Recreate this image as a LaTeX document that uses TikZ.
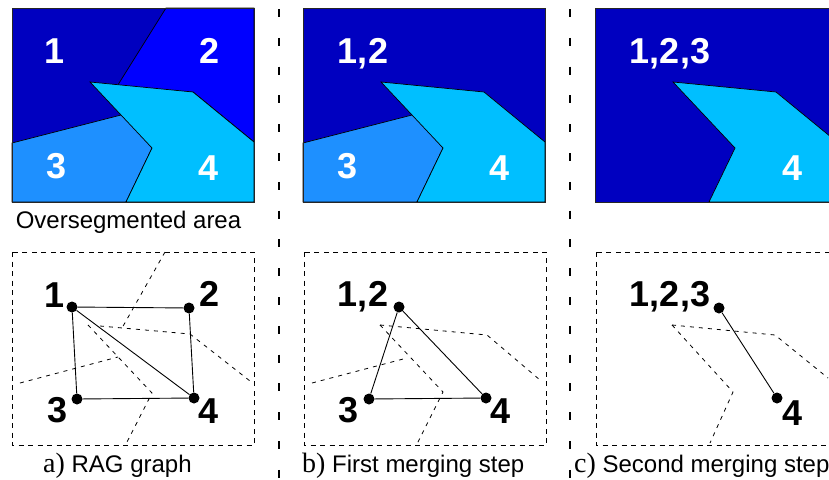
\documentclass[tikz,border=0pt]{standalone}
\usepackage{fontspec}
\setmainfont{Liberation Sans}
\newfontfamily\serifpart{Liberation Serif}
\usetikzlibrary{positioning}
\definecolor{Navy}{HTML}{0000C0}
\definecolor{Royal}{HTML}{0000FF}
\definecolor{Dodger}{HTML}{1E90FF}
\definecolor{Sky}{HTML}{00BFFF}

\begin{document}
\begin{tikzpicture}[x=1pt,y=-1pt,
  region/.style={draw=black,line width=0.7pt},
  frame/.style={draw=black!85,line width=1pt},
  sep/.style={line width=2.4pt,dash pattern=on 8pt off 20.8pt},
  box/.style={line width=1pt,dash pattern=on 5pt off 4.5pt},
  border/.style={line width=0.8pt,dash pattern=on 4pt off 5pt},
  vertex/.style={circle,fill=black,inner sep=0pt,minimum size=11pt},
  edge/.style={line width=0.9pt},
  num/.style={font=\fontsize{36}{36}\selectfont\bfseries,inner sep=0pt,anchor=base},
  wnum/.style={num,text=white},
  legend/.style={font=\fontsize{24}{24}\selectfont,inner sep=0pt}]
  \clip (0,0) rectangle (829,479);

  % oversegmented area
  \fill[Navy] (12,8) rectangle (254,202);
  \filldraw[region,fill=Royal] (166,8) -- (254,8) -- (254,142) -- (193,92) -- (116,88) -- cycle;
  \filldraw[region,fill=Dodger] (12,143) -- (125,114) -- (152,148) -- (126,202) -- (12,202) -- cycle;
  \filldraw[region,fill=Sky] (90,82) -- (193,92) -- (254,142) -- (254,202) -- (126,202) -- (152,148) -- cycle;
  \draw[frame] (12,8) rectangle (254,202);
  \node[wnum] (r1) at (55,63) {1};
  \node[wnum] (r2) at (210,63) {2};
  \node[wnum] (r3) at (57,178) {3};
  \node[wnum] (r4) at (209,180) {4};

  % first merging step
  \begin{scope}[xshift=291pt]
    \fill[Navy] (12,8) rectangle (254,202);
    \filldraw[region,fill=Dodger] (12,143) -- (125,114) -- (152,148) -- (126,202) -- (12,202) -- cycle;
    \filldraw[region,fill=Sky] (90,82) -- (193,92) -- (254,142) -- (254,202) -- (126,202) -- (152,148) -- cycle;
    \draw[frame] (12,8) rectangle (254,202);
  \end{scope}
  \node[wnum] (r12) at (363,63) {1,2};
  \node[wnum] (r3b) at (348,178) {3};
  \node[wnum] (r4b) at (500,180) {4};

  % second merging step
  \begin{scope}[xshift=583pt]
    \fill[Navy] (12,8) rectangle (254,202);
    \filldraw[region,fill=Sky] (90,82) -- (193,92) -- (254,142) -- (254,202) -- (126,202) -- (152,148) -- cycle;
    \draw[frame] (12,8) rectangle (254,202);
  \end{scope}
  \node[wnum] (r123) at (670,63) {1,2,3};
  \node[wnum] (r4c) at (792,180) {4};

  % separators
  \draw[sep] (279,9) -- (279,479);
  \draw[sep] (570,9) -- (570,479);

  % RAG graph
  \draw[box] (12,252) rectangle (254,445);
  \draw[border] (165,252) -- (122,328);
  \draw[border] (100,326) -- (190,334) -- (250,381);
  \draw[border] (88,325) -- (152,393) -- (126,444);
  \draw[border] (20,383) -- (118,357);
  \node[vertex] (v1) at (72,307) {};
  \node[vertex] (v2) at (189,308) {};
  \node[vertex] (v3) at (77,399) {};
  \node[vertex] (v4) at (194,398) {};
  \draw[edge] (v1) -- (v2);
  \draw[edge] (v1) -- (v3);
  \draw[edge] (v1) -- (v4);
  \draw[edge] (v2) -- (v4);
  \draw[edge] (v3) -- (v4);
  \node[num] (l1) at (55,307) {1};
  \node[num] (l2) at (210,306) {2};
  \node[num] (l3) at (57.5,422) {3};
  \node[num] (l4) at (208.5,423) {4};

  % first merging step graph
  \draw[box] (304,252) rectangle (546,445);
  \draw[border] (380,325) -- (487,335) -- (540,380);
  \draw[border] (380,325) -- (443,392) -- (417,444);
  \draw[border] (312,383) -- (407,358);
  \node[vertex] (w12) at (399,307) {};
  \node[vertex] (w3) at (369,399) {};
  \node[vertex] (w4) at (486,398) {};
  \draw[edge] (w12) -- (w3);
  \draw[edge] (w12) -- (w4);
  \draw[edge] (w3) -- (w4);
  \node[num] (m12) at (363,306) {1,2};
  \node[num] (m3) at (349,422) {3};
  \node[num] (m4) at (500.5,423) {4};

  % second merging step graph
  \draw[box] (596,252) rectangle (838,445);
  \draw[border] (672,325) -- (775,335) -- (828,378);
  \draw[border] (672,325) -- (733,392) -- (710,443);
  \node[vertex] (u123) at (719,308) {};
  \node[vertex] (u4) at (777,398) {};
  \draw[edge] (u123) -- (u4);
  \node[num] (n123) at (670,306) {1,2,3};
  \node[num] (n4) at (792,425) {4};

  % captions
  \node[legend,anchor=base] (cap0) at (128.5,228) {Oversegmented area};
  \node[legend,anchor=base west] (capa) at (43,472) {{\serifpart\fontsize{28}{28}\selectfont a)} RAG graph};
  \node[legend,anchor=base west] (capb) at (302,472) {{\serifpart\fontsize{28}{28}\selectfont b)} First merging step};
  \node[legend,anchor=base west] (capc) at (574,472) {{\serifpart\fontsize{28}{28}\selectfont c)} Second merging step};
\end{tikzpicture}
\end{document}
